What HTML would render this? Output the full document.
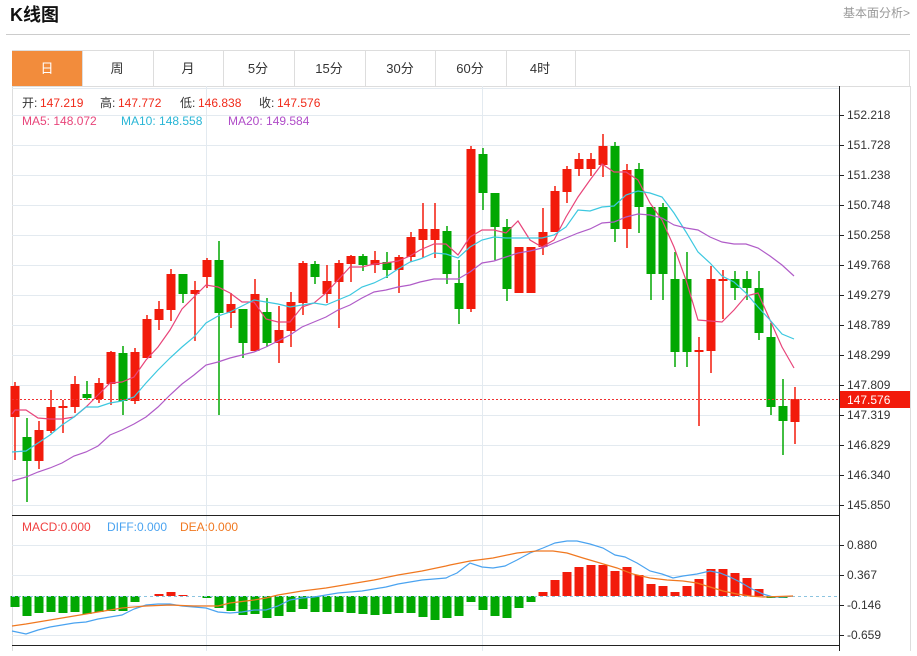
<!DOCTYPE html>
<html><head><meta charset="utf-8"><style>
body{margin:0;background:#fff;width:917px;height:651px;overflow:hidden;font-family:"Liberation Sans","Noto Sans CJK SC",sans-serif}
</style></head><body>
<svg id="s" width="917" height="651" xmlns="http://www.w3.org/2000/svg" font-family="Liberation Sans, Noto Sans CJK SC, sans-serif">
<text x="10" y="21" font-size="18" font-weight="bold" fill="#111">K线图</text>
<text x="843" y="17" font-size="12" fill="#999">基本面分析&gt;</text>
<line x1="6" y1="34.5" x2="910" y2="34.5" stroke="#ccc"/>
<rect x="12.5" y="50.5" width="897" height="36" fill="#fff" stroke="#ddd"/>
<rect x="12" y="51" width="70" height="35" fill="#f28c3c"/>
<g stroke="#ddd"><line x1="82.5" y1="51" x2="82.5" y2="86"/><line x1="153.5" y1="51" x2="153.5" y2="86"/><line x1="223.5" y1="51" x2="223.5" y2="86"/><line x1="294.5" y1="51" x2="294.5" y2="86"/><line x1="365.5" y1="51" x2="365.5" y2="86"/><line x1="435.5" y1="51" x2="435.5" y2="86"/><line x1="506.5" y1="51" x2="506.5" y2="86"/><line x1="575.5" y1="51" x2="575.5" y2="86"/></g>
<g font-size="13" text-anchor="middle" fill="#333">
<text x="47" y="73" fill="#fff">日</text><text x="117" y="73">周</text><text x="188" y="73">月</text><text x="258" y="73">5分</text><text x="329" y="73">15分</text><text x="400" y="73">30分</text><text x="470" y="73">60分</text><text x="540" y="73">4时</text></g>
<line x1="12.5" y1="86" x2="12.5" y2="651" stroke="#ddd"/>
<line x1="910.5" y1="86" x2="910.5" y2="651" stroke="#ddd"/>
<g id="grid" stroke="#e3eaf0"></g>
<line x1="206.5" y1="86" x2="206.5" y2="651" stroke="#e3eaf0"/>
<line x1="482.5" y1="86" x2="482.5" y2="651" stroke="#e3eaf0"/>
<line x1="839.5" y1="86" x2="839.5" y2="651" stroke="#222"/>
<line x1="12" y1="515.5" x2="840" y2="515.5" stroke="#222"/>
<line x1="12" y1="645.5" x2="840" y2="645.5" stroke="#222"/>
<g id="ax" font-size="12" fill="#333"></g>
<g id="c"></g>
<line x1="12" y1="399.5" x2="840" y2="399.5" stroke="#f03030" stroke-dasharray="2,2"/>
<rect x="840" y="391" width="70" height="17" fill="#f21b0b"/>
<text x="847" y="404" font-size="12" fill="#fff">147.576</text>
<g font-size="12">
<text x="22" y="107" fill="#333">开:</text><text x="40" y="107" fill="#f02a1a">147.219</text>
<text x="100" y="107" fill="#333">高:</text><text x="118" y="107" fill="#f02a1a">147.772</text>
<text x="180" y="107" fill="#333">低:</text><text x="198" y="107" fill="#f02a1a">146.838</text>
<text x="259" y="107" fill="#333">收:</text><text x="277" y="107" fill="#f02a1a">147.576</text>
<text x="22" y="125" fill="#e8457a">MA5: 148.072</text>
<text x="121" y="125" fill="#29b6d6">MA10: 148.558</text>
<text x="228" y="125" fill="#b04cc8">MA20: 149.584</text>
<text x="22" y="531" fill="#f04040">MACD:0.000</text>
<text x="107" y="531" fill="#4aa3f0">DIFF:0.000</text>
<text x="180" y="531" fill="#f07820">DEA:0.000</text>
</g>
</svg>
<script>
var ns="http://www.w3.org/2000/svg",s=document.getElementById('s');
function el(p,t,a){var e=document.createElementNS(ns,t);for(var k in a)e.setAttribute(k,a[k]);p.appendChild(e);return e;}
var g=document.getElementById('grid'),ax=document.getElementById('ax'),c=document.getElementById('c');
var pl=["152.218","151.728","151.238","150.748","150.258","149.768","149.279","148.789","148.299","147.809","147.319","146.829","146.340","145.850"];
for(var i=0;i<14;i++){var y=115+30*i;el(g,'line',{x1:12,x2:839,y1:y+.5,y2:y+.5});el(ax,'line',{x1:839,x2:844,y1:y+.5,y2:y+.5,stroke:'#222'});var t=el(ax,'text',{x:847,y:y+4});t.textContent=pl[i];}
var ml=["0.880","0.367","-0.146","-0.659"];
for(var i=0;i<4;i++){var y=545+30*i;el(g,'line',{x1:12,x2:839,y1:y+.5,y2:y+.5});el(ax,'line',{x1:839,x2:844,y1:y+.5,y2:y+.5,stroke:'#222'});var t=el(ax,'text',{x:847,y:y+4});t.textContent=ml[i];}
el(g,'line',{x1:12,x2:839,y1:88.5,y2:88.5});
var R='#f21b0b',G='#02a802';
var d=[[R,386,417,382,460],[G,437,461,418,502],[R,430,461,421,469],[R,407,431,390,433],[R,406,408,400,433],[R,384,407,376,413],[G,394,398,381,400],[R,383,399,378,403],[R,352,384,351,405],[G,353,401,346,415],[R,352,401,348,404],[R,319,358,315,358],[R,309,320,301,330],[R,274,310,269,321],[G,274,294,274,303],[R,290,294,281,341],[R,260,277,258,288],[G,260,313,241,415],[R,304,313,293,328],[G,309,343,309,358],[R,294,351,279,351],[G,312,343,298,347],[R,330,343,306,363],[R,302,331,292,347],[R,263,303,261,315],[G,264,277,261,284],[R,281,294,265,303],[R,263,282,260,328],[R,256,264,255,282],[G,256,265,254,271],[R,260,265,251,273],[G,262,270,252,278],[R,257,270,255,293],[R,237,257,232,262],[R,229,240,203,258],[R,229,240,203,258],[G,231,274,226,284],[G,283,309,260,324],[R,149,309,146,312],[G,154,193,148,210],[G,193,227,193,260],[G,227,289,219,301],[R,247,293,247,293],[R,247,293,247,293],[R,232,247,208,255],[R,191,232,186,232],[R,169,192,166,203],[R,159,169,153,176],[R,159,169,153,176],[R,146,165,134,177],[G,146,229,142,242],[R,170,229,164,248],[G,169,207,163,233],[G,207,274,207,300],[G,207,274,203,300],[G,279,352,252,367],[G,279,352,252,367],[R,350,352,337,426],[R,279,351,266,373],[R,279,281,270,319],[G,279,288,271,300],[G,279,288,271,300],[G,288,333,271,340],[G,337,407,323,415],[G,406,421,379,455],[R,399,422,387,444]];
var h=[607,616,613,612,613,612,614,612,611,611,602,596,594,592,595,596,598,608,611,615,614,618,616,612,609,612,612,612,613,614,615,614,613,613,617,620,618,616,602,610,616,618,608,602,592,580,572,567,565,565,571,567,575,584,586,592,586,579,569,569,573,578,589,598,598,596];
var z=596;
for(var i=0;i<66;i++){var x=15+12*i,q=d[i];
el(c,'line',{x1:x,x2:x,y1:q[3],y2:q[4],stroke:q[0],'stroke-width':1.5});
el(c,'rect',{x:x-4.5,y:q[1],width:9,height:Math.max(1.5,q[2]-q[1]),fill:q[0]});
var v=h[i];if(Math.abs(v-z)>0.5){el(c,'rect',{x:x-4.5,y:Math.min(v,z),width:9,height:Math.abs(v-z),fill:v<z?R:G});}}
el(c,'line',{x1:12,x2:839,y1:596.5,y2:596.5,stroke:'#8cc4e0','stroke-dasharray':'3,3'});
function pl2(p,col){el(c,'polyline',{points:p,fill:'none',stroke:col,'stroke-width':1.2});}
pl2("12,414 15,410 26,410 38,418 50,419 62,419 74,417 86,407 98,395 110,383 122,382 134,377 146,360 158,347 170,330 182,309 194,297 206,285 218,287 230,293 242,302 254,302 266,319 278,322 290,322 302,307 314,303 326,293 338,280 350,267 362,267 374,264 386,263 398,261 410,256 420,250 434,244 446,244 458,255 470,237 482,230 494,230 506,233 518,221 530,240 542,247 554,240 566,217 578,197 590,180 602,164 614,172 626,172 638,180 650,203 662,220 674,247 686,280 698,320 710,321 722,322 734,310 746,296 758,293 770,320 782,347 794,368","#e8457a");
pl2("12,452 26,451 38,443 50,435 62,425 74,417 86,407 98,407 110,403 122,401 134,397 146,383 158,370 170,358 182,347 194,337 206,323 218,316 230,312 242,306 254,300 266,302 278,304 290,307 302,305 314,303 326,305 338,300 350,295 362,287 374,283 386,277 398,269 410,262 420,259 434,253 446,254 458,258 470,247 482,240 494,237 506,238 518,238 530,238 542,238 554,235 566,227 578,210 590,211 602,207 614,206 626,195 638,191 650,193 662,197 674,213 686,232 698,252 710,263 722,276 734,282 746,293 758,307 770,320 782,334 794,339","#3cc8e0");
pl2("12,481 26,477 38,472 50,468 62,463 74,456 86,452 98,446 110,435 122,430 134,424 146,417 158,407 170,395 182,384 194,375 206,365 218,362 230,358 242,355 254,352 266,347 278,341 290,335 302,327 314,322 326,317 338,310 350,305 362,298 374,292 386,290 398,287 410,285 420,282 434,279 446,279 458,279 470,272 482,263 494,261 506,257 518,253 530,251 542,248 554,243 566,238 578,233 590,229 602,223 614,222 626,217 638,214 650,215 662,218 674,225 686,228 698,230 710,237 722,242 734,244 746,244 758,248 770,256 782,265 794,276","#b05cc8");
pl2("12,631 26,634 38,630 50,627 62,625 74,623 86,622 98,619 110,617 122,615 134,609 146,605 158,604 170,604 182,606 194,607 206,608 218,612 230,613 242,612 254,610 266,610 278,606 290,600 302,598 314,597 326,595 338,593 350,592 362,591 374,589 386,587 398,584 410,582 422,580 434,579 446,578 450,576 457,573 470,563 482,567 493,568 505,566 517,560 530,553 543,548 555,543 567,541 577,541 590,544 603,548 615,555 625,557 637,563 650,571 662,574 673,578 683,576 697,574 710,571 720,573 730,577 740,582 752,589 763,594 773,597 783,597 793,596","#4aa3f0");
pl2("12,626 26,624 50,620 74,616 98,612 122,608 146,606 170,605 194,606 206,606 218,606 230,603 254,600 266,598 278,595 302,591 326,588 350,584 374,580 398,575 422,571 446,566 450,565 470,561 493,558 517,553 537,551 553,551 567,553 583,558 600,563 617,568 633,574 650,578 667,580 683,581 697,583 710,587 723,591 737,594 750,596 763,597 793,596","#f07820");
</script>
</body></html>
